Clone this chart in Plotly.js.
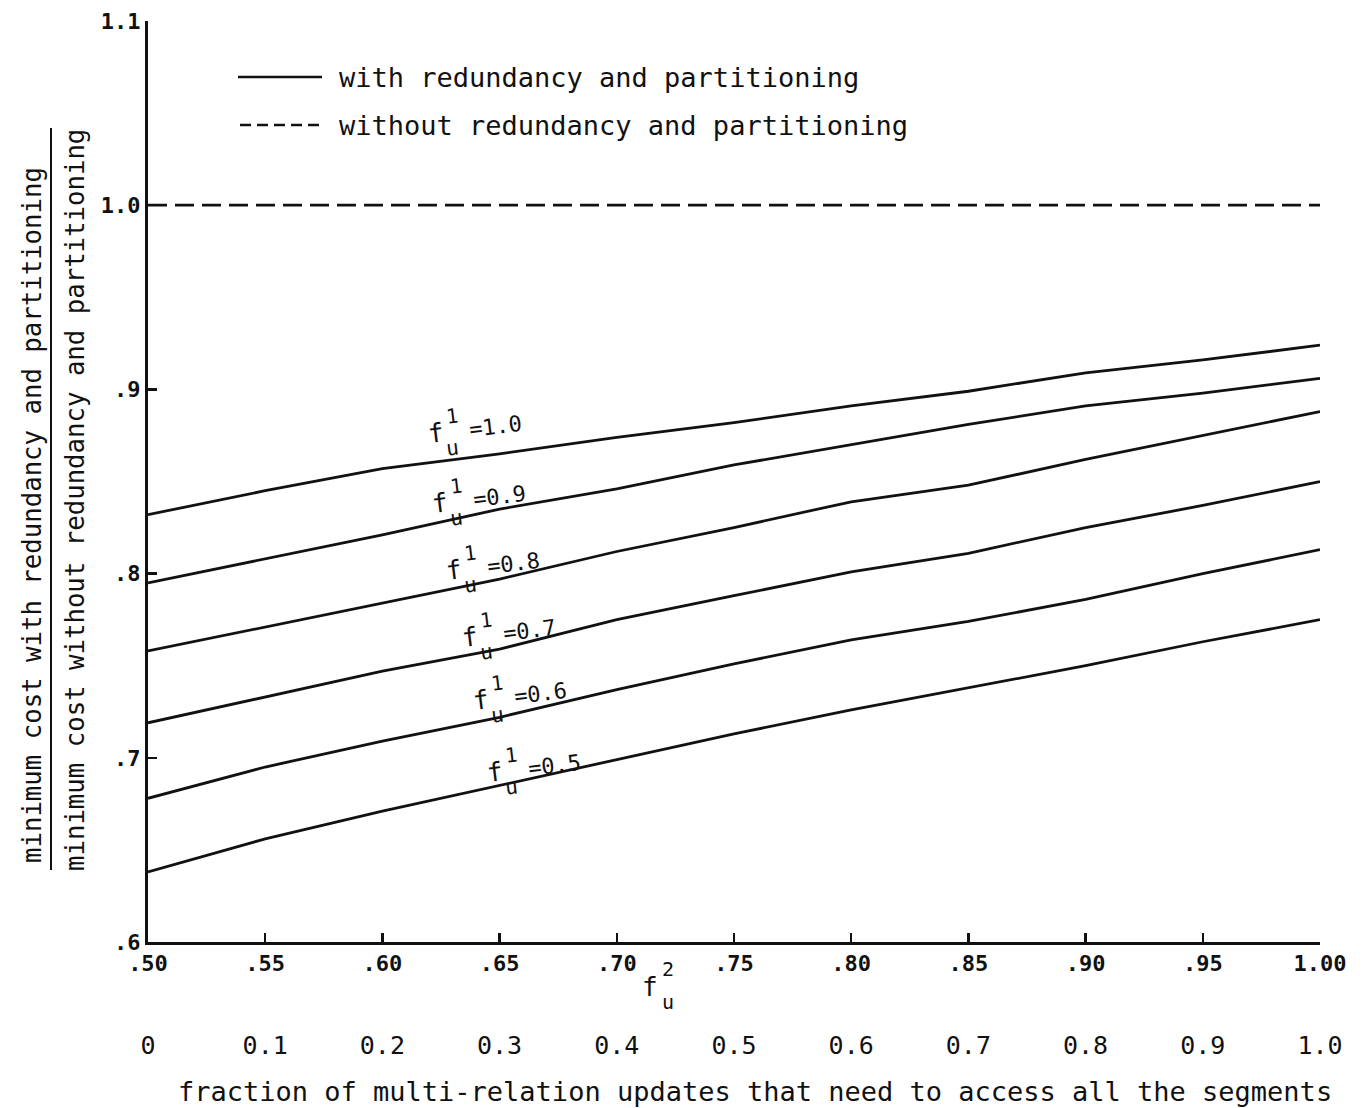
<!DOCTYPE html>
<html>
<head>
<meta charset="utf-8">
<script src="https://cdn.plot.ly/plotly-3.0.1.min.js"></script>
<style>
  html, body { margin: 0; padding: 0; background: #ffffff; }
  #chart { width: 1362px; height: 1108px; }
</style>
</head>
<body>
<div id="chart"></div>
<script>
// f_u^2 : fraction of multi-relation updates (primary x axis)
const fu2 = [0.50, 0.55, 0.60, 0.65, 0.70, 0.75, 0.80, 0.85, 0.90, 0.95, 1.00];

// cost ratio with / without redundancy and partitioning, one curve per f_u^1
const fu1Levels = ['1.0', '0.9', '0.8', '0.7', '0.6', '0.5'];
const ratioFu1_10 = [0.832, 0.845, 0.857, 0.865, 0.874, 0.882, 0.891, 0.899, 0.909, 0.916, 0.924];
const ratioFu1_09 = [0.795, 0.808, 0.821, 0.835, 0.846, 0.859, 0.870, 0.881, 0.891, 0.898, 0.906];
const ratioFu1_08 = [0.758, 0.771, 0.784, 0.797, 0.812, 0.825, 0.839, 0.848, 0.862, 0.875, 0.888];
const ratioFu1_07 = [0.719, 0.733, 0.747, 0.759, 0.775, 0.788, 0.801, 0.811, 0.825, 0.837, 0.850];
const ratioFu1_06 = [0.678, 0.695, 0.709, 0.722, 0.737, 0.751, 0.764, 0.774, 0.786, 0.800, 0.813];
const ratioFu1_05 = [0.638, 0.656, 0.671, 0.685, 0.699, 0.713, 0.726, 0.738, 0.750, 0.763, 0.775];

// reference: no redundancy and no partitioning
const ratioBaseline = [1.0, 1.0, 1.0, 1.0, 1.0, 1.0, 1.0, 1.0, 1.0, 1.0, 1.0];

// tick labels
const xTickVals = [0.50, 0.55, 0.60, 0.65, 0.70, 0.75, 0.80, 0.85, 0.90, 0.95, 1.00];
const xTickText = ['.50', '.55', '.60', '.65', '.70', '.75', '.80', '.85', '.90', '.95', '1.00'];
const yTickVals = [0.6, 0.7, 0.8, 0.9, 1.0, 1.1];
const yTickText = ['.6', '.7', '.8', '.9', '1.0', '1.1'];
const fracTickVals = [0, 0.1, 0.2, 0.3, 0.4, 0.5, 0.6, 0.7, 0.8, 0.9, 1.0];
const fracTickText = ['0', '0.1', '0.2', '0.3', '0.4', '0.5', '0.6', '0.7', '0.8', '0.9', '1.0'];

const legendSolid = 'with redundancy and partitioning';
const legendDashed = 'without redundancy and partitioning';
const yTitleTop = 'minimum cost with redundancy and partitioning';
const yTitleBottom = 'minimum cost without redundancy and partitioning';
const xTitleLower = 'fraction of multi-relation updates that need to access all the segments';

// ---- drawing ----
const MONO = '"DejaVu Sans Mono", "Liberation Mono", monospace';
const INK = '#111111';
const W = 1362, H = 1108;
const M = { l: 148, r: 42, t: 21, b: 166 };
const plotW = W - M.l - M.r, plotH = H - M.t - M.b;
const pxX = x => (x - M.l) / plotW;          // page pixel -> paper fraction
const pxY = y => (H - M.b - y) / plotH;

const curves = [ratioFu1_10, ratioFu1_09, ratioFu1_08, ratioFu1_07, ratioFu1_06, ratioFu1_05];

const traces = curves.map((ys, i) => ({
  type: 'scatter', mode: 'lines', x: fu2, y: ys,
  name: 'f_u^1=' + fu1Levels[i],
  line: { color: INK, width: 2.8 },
  showlegend: false, hoverinfo: 'x+y'
}));
traces.push({
  type: 'scatter', mode: 'lines', x: fu2, y: ratioBaseline,
  name: legendDashed, line: { color: INK, width: 2.8, dash: '19px,8px' },
  showlegend: false
});
// carrier for the second (fraction) x scale
traces.push({
  type: 'scatter', mode: 'lines', xaxis: 'x2', yaxis: 'y',
  x: [fracTickVals[0], fracTickVals[fracTickVals.length - 1]], y: [null, null],
  showlegend: false, hoverinfo: 'skip'
});

// label placement for each curve (page pixels of the "f" glyph)
const labelAnchorPx = [[436, 433], [440, 503], [454, 570], [470, 637], [481, 700], [495, 772]];
const LABEL_ANGLE = -7;
const annotations = [];
labelAnchorPx.forEach(([px, py], i) => {
  const ax = pxX(px), ay = pxY(py);
  const base = { xref: 'paper', yref: 'paper', x: ax, y: ay, showarrow: false,
                 xanchor: 'center', yanchor: 'middle', textangle: LABEL_ANGLE };
  annotations.push(Object.assign({}, base, { text: 'f', font: { family: MONO, size: 26, color: INK } }));
  annotations.push(Object.assign({}, base, { text: '1', xshift: 16, yshift: 17, font: { family: MONO, size: 20, color: INK } }));
  annotations.push(Object.assign({}, base, { text: 'u', xshift: 16, yshift: -15, font: { family: MONO, size: 21, color: INK } }));
  annotations.push(Object.assign({}, base, { text: '=' + fu1Levels[i], xshift: 59, yshift: 7, font: { family: MONO, size: 22, color: INK } }));
});

// legend text
annotations.push({ xref: 'paper', yref: 'paper', x: pxX(337), y: pxY(77), xanchor: 'left', yanchor: 'middle',
  showarrow: false, text: legendSolid, font: { family: MONO, size: 27, color: INK } });
annotations.push({ xref: 'paper', yref: 'paper', x: pxX(337), y: pxY(125), xanchor: 'left', yanchor: 'middle',
  showarrow: false, text: legendDashed, font: { family: MONO, size: 27, color: INK } });

// y title as a stacked fraction
annotations.push({ xref: 'paper', yref: 'paper', x: pxX(32), y: pxY(515), xanchor: 'center', yanchor: 'middle',
  showarrow: false, textangle: -90, text: yTitleTop, font: { family: MONO, size: 25.7, color: INK } });
annotations.push({ xref: 'paper', yref: 'paper', x: pxX(75), y: pxY(500), xanchor: 'center', yanchor: 'middle',
  showarrow: false, textangle: -90, text: yTitleBottom, font: { family: MONO, size: 25.7, color: INK } });

// x title f_u^2
annotations.push({ xref: 'paper', yref: 'paper', x: pxX(650), y: pxY(987), xanchor: 'center', yanchor: 'middle',
  showarrow: false, text: 'f', font: { family: MONO, size: 26, color: INK } });
annotations.push({ xref: 'paper', yref: 'paper', x: pxX(668), y: pxY(969), xanchor: 'center', yanchor: 'middle',
  showarrow: false, text: '2', font: { family: MONO, size: 20, color: INK } });
annotations.push({ xref: 'paper', yref: 'paper', x: pxX(668), y: pxY(1002), xanchor: 'center', yanchor: 'middle',
  showarrow: false, text: 'u', font: { family: MONO, size: 20, color: INK } });

// lower axis caption
annotations.push({ xref: 'paper', yref: 'paper', x: pxX(755), y: pxY(1091), xanchor: 'center', yanchor: 'middle',
  showarrow: false, text: xTitleLower, font: { family: MONO, size: 27, color: INK } });

const shapes = [
  // legend samples
  { type: 'line', xref: 'paper', yref: 'paper', x0: pxX(238), x1: pxX(322), y0: pxY(77), y1: pxY(77),
    line: { color: INK, width: 2.6 } },
  { type: 'line', xref: 'paper', yref: 'paper', x0: pxX(240), x1: pxX(322), y0: pxY(125), y1: pxY(125),
    line: { color: INK, width: 2.6, dash: '11px,6px' } },
  // fraction bar of the y title
  { type: 'line', xref: 'paper', yref: 'paper', x0: pxX(51), x1: pxX(51), y0: pxY(128), y1: pxY(870),
    line: { color: INK, width: 2 } }
];

const layout = {
  width: W, height: H,
  margin: M,
  paper_bgcolor: '#ffffff', plot_bgcolor: '#ffffff',
  showlegend: false,
  font: { family: MONO, color: INK },
  xaxis: {
    range: [0.5, 1.0], tickvals: xTickVals, ticktext: xTickText,
    ticks: 'inside', ticklen: 9, tickwidth: 2.5, tickcolor: INK,
    showline: true, linewidth: 3, linecolor: INK,
    showgrid: false, zeroline: false,
    tickfont: { family: MONO, size: 22, color: INK, weight: 'bold' }
  },
  xaxis2: {
    overlaying: 'x', anchor: 'y', side: 'bottom',
    range: [0, 1], tickvals: fracTickVals, ticktext: fracTickText,
    ticks: '', showline: false, showgrid: false, zeroline: false,
    ticklabelstandoff: 86,
    tickfont: { family: MONO, size: 25, color: INK }
  },
  yaxis: {
    range: [0.6, 1.1], tickvals: yTickVals, ticktext: yTickText,
    ticks: 'inside', ticklen: 9, tickwidth: 2.5, tickcolor: INK,
    showline: true, linewidth: 3, linecolor: INK,
    showgrid: false, zeroline: false,
    tickfont: { family: MONO, size: 22, color: INK, weight: 'bold' }
  },
  annotations: annotations,
  shapes: shapes
};

Plotly.newPlot('chart', traces, layout, { displayModeBar: false, staticPlot: true });
</script>
</body>
</html>
